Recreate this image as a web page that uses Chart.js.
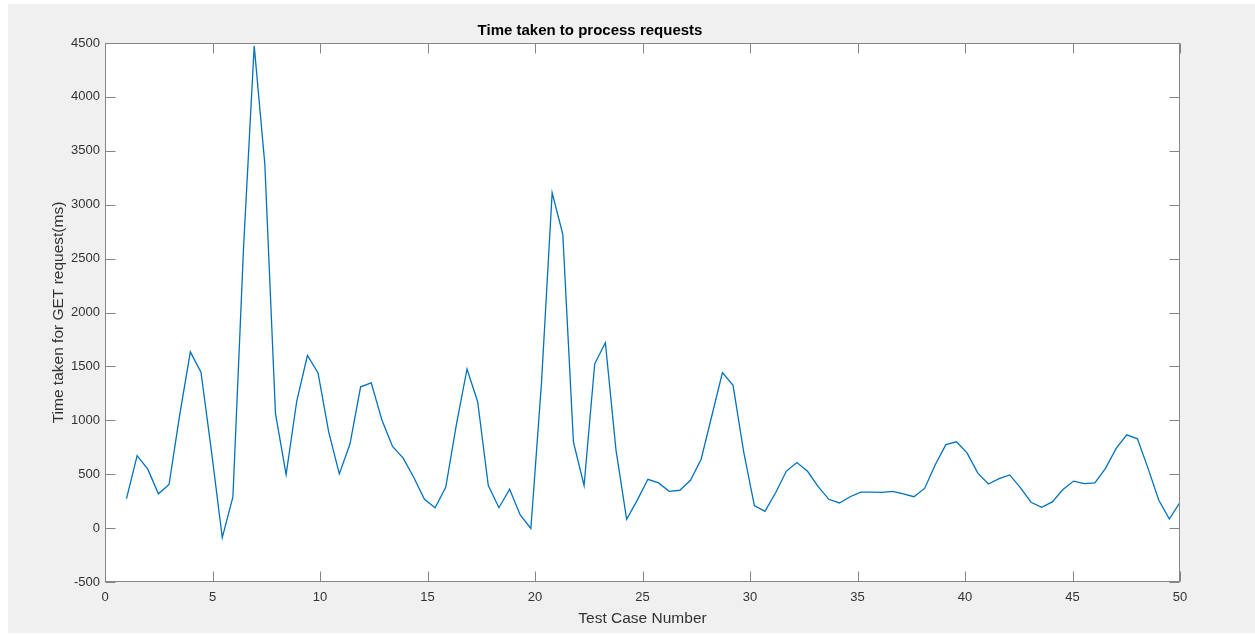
<!DOCTYPE html>
<html>
<head>
<meta charset="utf-8">
<script src="https://cdn.jsdelivr.net/npm/chart.js@4.4.1/dist/chart.umd.min.js"></script>
<style>
  html, body { margin: 0; padding: 0; background: #fff; }
  #frame { position: absolute; left: 8px; top: 4px; width: 1247px; height: 629px; background: #f0f0f0; }
  #wrap { position: absolute; left: 0; top: 0; width: 1255px; height: 634px; }
</style>
</head>
<body>
<div id="frame"></div>
<div id="wrap"><canvas id="chart" width="1255" height="634"></canvas></div>
<script>
// Response time per test case (ms)
const timeMs = [
  274, 672, 547, 318, 405, 1050, 1635, 1446, 700, -88,
  290, 2600, 4473, 3375, 1061, 497, 1179, 1601, 1439, 892,
  503, 780, 1311, 1348, 1003, 757, 649, 470, 267, 189,
  378, 959, 1476, 1172, 395, 189, 361, 122, -3, 1350,
  3111, 2726, 797, 395, 1524, 1720, 723, 81, 260, 453,
  419, 341, 351, 443, 639, 1040, 1443, 1324, 706, 209,
  155, 328, 527, 608, 527, 385, 267, 233, 291, 334,
  334, 331, 341, 318, 291, 368, 588, 774, 801, 696,
  510, 409, 459, 493, 375, 240, 193, 243, 358, 436,
  412, 419, 554, 740, 865, 828, 554, 260, 84, 240
];

// 100 samples spread evenly over test cases 1..50
const testCase = timeMs.map((_, i) => 1 + i * 49 / (timeMs.length - 1));

const xTicks = [0, 5, 10, 15, 20, 25, 30, 35, 40, 45, 50];
const yTicks = [-500, 0, 500, 1000, 1500, 2000, 2500, 3000, 3500, 4000, 4500];

const AXIS_COLOR = '#858585';
const TEXT_COLOR = '#333333';
const FONT = "'Liberation Sans', Arial, Helvetica, sans-serif";

// MATLAB-like axes: white plot box, inward ticks on all four sides
const matlabBox = {
  id: 'matlabBox',
  beforeDraw(chart) {
    const { ctx, chartArea: a } = chart;
    ctx.save();
    ctx.fillStyle = '#ffffff';
    ctx.fillRect(a.left, a.top, a.right - a.left, a.bottom - a.top);
    ctx.restore();
  },
  afterDraw(chart) {
    const { ctx, chartArea: a, scales } = chart;
    const len = 10;
    const L = Math.round(a.left) + 0.5, R = Math.round(a.right) - 0.5;
    const T = Math.round(a.top) + 0.5, B = Math.round(a.bottom) - 0.5;
    ctx.save();
    ctx.strokeStyle = AXIS_COLOR;
    ctx.lineWidth = 1;
    ctx.beginPath();
    xTicks.forEach((v) => {
      const px = Math.round(scales.x.getPixelForValue(v)) + 0.5;
      ctx.moveTo(px, B); ctx.lineTo(px, B - len);
      ctx.moveTo(px, T); ctx.lineTo(px, T + len);
    });
    yTicks.forEach((v) => {
      const py = Math.round(scales.y.getPixelForValue(v)) + 0.5;
      ctx.moveTo(L, py); ctx.lineTo(L + len, py);
      ctx.moveTo(R, py); ctx.lineTo(R - len, py);
    });
    ctx.stroke();
    ctx.strokeRect(L, T, R - L, B - T);
    ctx.restore();
  },
};

new Chart(document.getElementById('chart'), {
  type: 'line',
  data: {
    datasets: [
      {
        data: testCase.map((x, i) => ({ x, y: timeMs[i] })),
        borderColor: '#0072BD',
        borderWidth: 1.3,
        pointRadius: 0,
        tension: 0,
        fill: false,
      },
    ],
  },
  options: {
    responsive: false,
    animation: false,
    devicePixelRatio: 1,
    layout: { padding: { left: 0, right: 75, top: 0, bottom: 0 } },
    plugins: {
      legend: { display: false },
      tooltip: { enabled: false },
      title: {
        display: true,
        text: 'Time taken to process requests',
        color: '#000000',
        font: { family: FONT, size: 15, weight: 'bold' },
        padding: { top: 22, bottom: 3 },
      },
    },
    scales: {
      x: {
        type: 'linear',
        min: 0,
        max: 50,
        grid: { display: false, drawTicks: false, tickLength: 0 },
        border: { display: false },
        afterBuildTicks: (s) => { s.ticks = xTicks.map((v) => ({ value: v })); },
        afterFit: (s) => { s.height = 52; },
        ticks: {
          color: TEXT_COLOR,
          font: { family: FONT, size: 13 },
          padding: 8,
          maxRotation: 0,
          autoSkip: false,
          callback: (v) => String(v),
        },
        title: {
          display: true,
          text: 'Test Case Number',
          color: TEXT_COLOR,
          font: { family: FONT, size: 15.5 },
          padding: { top: 0, bottom: 6 },
        },
      },
      y: {
        type: 'linear',
        min: -500,
        max: 4500,
        grid: { display: false, drawTicks: false, tickLength: 0 },
        border: { display: false },
        afterBuildTicks: (s) => { s.ticks = yTicks.map((v) => ({ value: v })); },
        afterFit: (s) => { s.width = 105; },
        ticks: {
          color: TEXT_COLOR,
          font: { family: FONT, size: 13 },
          padding: 5,
          autoSkip: false,
          callback: (v) => String(v),
        },
        title: {
          display: true,
          text: 'Time taken for GET request(ms)',
          color: TEXT_COLOR,
          font: { family: FONT, size: 15.5 },
          padding: { top: 49, bottom: 0 },
        },
      },
    },
  },
  plugins: [matlabBox],
});
</script>
</body>
</html>
